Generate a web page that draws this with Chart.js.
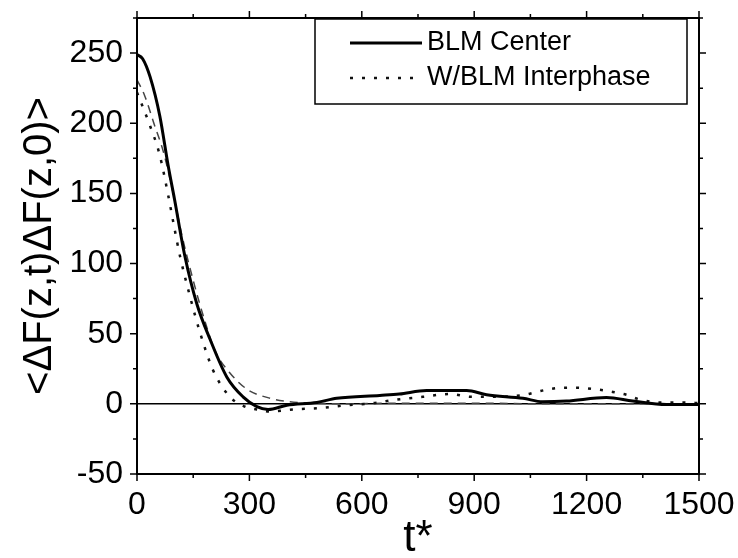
<!DOCTYPE html>
<html>
<head>
<meta charset="utf-8">
<script src="https://cdn.jsdelivr.net/npm/chart.js@4.4.1/dist/chart.umd.min.js"></script>
<style>
  html, body { margin: 0; padding: 0; background: #fff; }
  #wrap { width: 738px; height: 558px; }
</style>
</head>
<body>
<div id="wrap"><canvas id="chart"></canvas></div>
<script>
const tCenter = [0, 15, 35, 61, 83, 100, 128, 160, 195, 240, 283, 320, 350, 400, 480, 533, 648, 700, 773, 880, 933, 1030, 1083, 1146, 1253, 1323, 1413, 1500];
const vCenter = [249, 246, 233, 205, 170, 146, 105, 71, 46, 19, 5, -2, -4, -1, 1, 4, 6, 7, 9.5, 9.5, 6.5, 4, 1.5, 2, 4.5, 2, -0.5, -0.5];

const tInter = [0, 35, 60, 83, 100, 115, 141, 168, 203, 248, 288, 320, 355, 416, 488, 560, 630, 693, 763, 835, 893, 960, 1035, 1067, 1101, 1136, 1173, 1235, 1270, 1306, 1337, 1395, 1466, 1500];
const vInter = [222, 198, 178, 149, 125, 105, 77, 51, 24, 5, -2, -4, -5.5, -4, -3, -1, 0.5, 3, 5, 7, 5, 5, 6.5, 8.5, 10.5, 11.5, 11.5, 10, 8.5, 6.5, 3.5, 1, 1, 0.5];

const tDash = [0, 20, 45, 70, 95, 120, 150, 180, 208, 248, 296, 355, 408, 469, 550, 700, 900, 1100, 1300, 1500];
const vDash = [231, 220, 200, 180, 152, 120, 88, 60, 38, 22, 10, 4, 1.5, 0.5, 0, 0.5, 0.5, 0, 0, 0];

const xMin = 0, xMax = 1500, xMajor = 300, xMinor = 150;
const yMin = -50, yMax = 275, yMajor = 50, yMinor = 25;

const pts = (ts, vs) => ts.map((t, i) => ({ x: t, y: vs[i] }));
const font = '"Liberation Sans", Arial, sans-serif';

// box frame + minor ticks on all four sides
const frameTicks = {
  id: 'frameTicks',
  afterDraw(chart) {
    const { ctx, chartArea: a, scales: { x, y } } = chart;
    ctx.save();
    ctx.strokeStyle = '#000';
    ctx.lineWidth = 2;
    ctx.strokeRect(a.left, a.top, a.right - a.left, a.bottom - a.top);
    ctx.lineWidth = 1.5;
    ctx.beginPath();
    for (let v = xMin; v <= xMax; v += xMinor) {
      const px = x.getPixelForValue(v);
      const len = v % xMajor === 0 ? 7 : 4;
      ctx.moveTo(px, a.bottom); ctx.lineTo(px, a.bottom + len);
      ctx.moveTo(px, a.top); ctx.lineTo(px, a.top - len);
    }
    for (let v = yMin; v <= yMax; v += yMinor) {
      const py = y.getPixelForValue(v);
      const len = v % yMajor === 0 ? 7 : 4;
      ctx.moveTo(a.left, py); ctx.lineTo(a.left - len, py);
      ctx.moveTo(a.right, py); ctx.lineTo(a.right + len, py);
    }
    ctx.stroke();
    ctx.restore();
  }
};

// boxed legend in the upper right corner
const boxLegend = {
  id: 'boxLegend',
  afterDraw(chart) {
    const { ctx, chartArea: a } = chart;
    const left = a.left + 178, top = a.top + 1, w = 372, h = 85;
    ctx.save();
    ctx.fillStyle = '#fff';
    ctx.fillRect(left, top, w, h);
    ctx.strokeStyle = '#000';
    ctx.lineWidth = 1.5;
    ctx.strokeRect(left, top, w, h);
    const items = chart.data.datasets.filter(d => d.label);
    items.forEach((d, i) => {
      const cy = top + 24 + i * 35;
      ctx.beginPath();
      ctx.setLineDash(d.borderDash || []);
      ctx.lineWidth = d.borderWidth;
      ctx.strokeStyle = d.borderColor;
      ctx.moveTo(left + 35, cy);
      ctx.lineTo(left + 107, cy);
      ctx.stroke();
      ctx.setLineDash([]);
      ctx.fillStyle = '#000';
      ctx.font = '27px ' + font;
      ctx.textBaseline = 'middle';
      ctx.fillText(d.label, left + 112, cy);
    });
    ctx.restore();
  }
};

new Chart(document.getElementById('chart'), {
  type: 'line',
  data: {
    datasets: [
      {
        label: 'BLM Center',
        data: pts(tCenter, vCenter),
        borderColor: '#000',
        borderWidth: 3,
        pointRadius: 0,
        cubicInterpolationMode: 'monotone'
      },
      {
        label: 'W/BLM Interphase',
        data: pts(tInter, vInter),
        borderColor: '#111',
        borderWidth: 2.5,
        borderDash: [3, 9],
        pointRadius: 0,
        cubicInterpolationMode: 'monotone'
      },
      {
        label: '',
        data: pts(tDash, vDash),
        borderColor: '#444',
        borderWidth: 1.5,
        borderDash: [8, 6],
        pointRadius: 0,
        cubicInterpolationMode: 'monotone'
      }
    ]
  },
  options: {
    responsive: true,
    maintainAspectRatio: false,
    animation: false,
    layout: { padding: { left: 0, top: 18, right: 39, bottom: 0 } },
    plugins: {
      legend: { display: false },
      tooltip: { enabled: false }
    },
    scales: {
      x: {
        type: 'linear',
        min: xMin,
        max: xMax,
        afterFit: s => { s.height = 84; s.paddingLeft = 0; s.paddingRight = 0; },
        grid: { display: false, drawTicks: false },
        border: { display: true, color: '#000', width: 2 },
        ticks: {
          stepSize: xMajor,
          padding: 12,
          color: '#000',
          maxRotation: 0,
          autoSkip: false,
          font: { family: font, size: 32 },
          callback: v => String(v)
        },
        title: {
          display: true,
          text: 't*',
          color: '#000',
          padding: 0,
          font: { family: font, size: 44, lineHeight: 0.85 }
        }
      },
      y: {
        type: 'linear',
        min: yMin,
        max: yMax,
        afterFit: s => { s.width = 137; s.paddingTop = 0; s.paddingBottom = 0; },
        grid: {
          drawTicks: false,
          lineWidth: 1.5,
          color: c => (c.tick && c.tick.value === 0 ? '#000' : 'rgba(0,0,0,0)')
        },
        border: { display: true, color: '#000', width: 2 },
        ticks: {
          stepSize: yMajor,
          includeBounds: false,
          padding: 14,
          color: '#000',
          autoSkip: false,
          font: { family: font, size: 32 },
          callback: v => (v % yMajor === 0 ? String(v) : '')
        },
        title: {
          display: true,
          text: '<ΔF(z,t)ΔF(z,0)>',
          color: '#000',
          padding: { top: 16, bottom: 0 },
          font: { family: font, size: 40, lineHeight: 1.2 }
        }
      }
    }
  },
  plugins: [frameTicks, boxLegend]
});
</script>
</body>
</html>
